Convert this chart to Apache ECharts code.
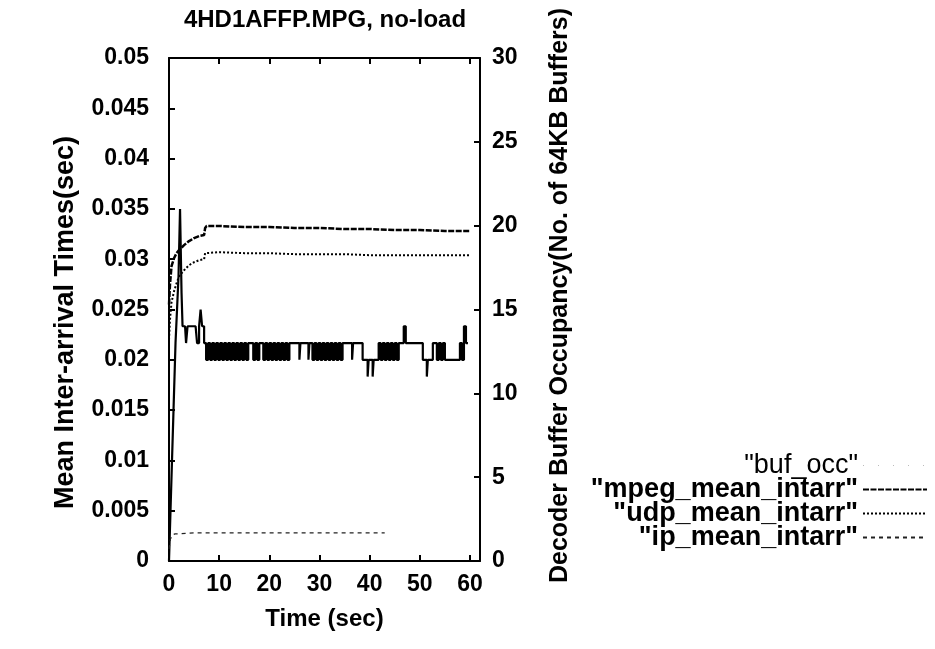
<!DOCTYPE html>
<html>
<head>
<meta charset="utf-8">
<script src="https://cdn.jsdelivr.net/npm/echarts@6/dist/echarts.min.js"></script>
<style>
html,body{margin:0;padding:0;background:#fff;}
#c{width:935px;height:649px;}
</style>
</head>
<body>
<div id="c"></div>
<script>
// ---- data ----
var titleText = '4HD1AFFP.MPG, no-load';
var seriesNames = ['"buf_occ"', '"mpeg_mean_intarr"', '"udp_mean_intarr"', '"ip_mean_intarr"'];

var meanTime = [0, 0.2, 0.5, 1, 1.5, 2, 3, 4, 5, 6, 7, 7.2, 7.5, 10, 15, 20, 25, 30, 35, 40, 45, 50, 55, 60];
var mpegMean = [0.0255, 0.0275, 0.0293, 0.0301, 0.0306, 0.0309, 0.0314, 0.0318, 0.0321, 0.0323, 0.0324, 0.0331, 0.0333, 0.0333, 0.0332, 0.0332, 0.0331, 0.0331, 0.0330, 0.0330, 0.0329, 0.0329, 0.0328, 0.0328];
var udpMean  = [0.0220, 0.0240, 0.0257, 0.0268, 0.0276, 0.0283, 0.0289, 0.0294, 0.0297, 0.0299, 0.0300, 0.0306, 0.0307, 0.0307, 0.0306, 0.0306, 0.0305, 0.0305, 0.0305, 0.0304, 0.0304, 0.0304, 0.0304, 0.0304];

var ipTime = [0, 0.3, 0.7, 1.2, 2, 5, 10, 20, 30, 40, 43];
var ipMean = [0.0012, 0.0022, 0.0026, 0.0027, 0.0027, 0.0028, 0.0028, 0.0028, 0.0028, 0.0028, 0.0028];

// buffer occupancy (no. of 64KB buffers) : [time, buffers]
var bufOcc = [
 [0,0],[0.3,3],[0.6,6],[0.9,9],[1.1,11],[1.3,13],[1.6,15],[1.9,17],[2.2,21],[2.5,16],[2.7,14],[3.2,14],[3.4,13],[3.7,14],
 [5.3,14],[5.6,13],[6.0,14],[6.3,15],[6.6,14],[7.0,13],
 [7.4,12],[7.8,13],[8.2,12],[8.6,13],[9.0,12],[9.4,13],[9.8,12],[10.2,13],[10.6,12],[11.0,13],[11.4,12],[11.8,13],
 [12.2,12],[12.6,13],[13.0,12],[13.4,13],[13.8,12],[14.2,13],[14.6,12],[15.0,13],[15.4,12],[15.8,13],
 [16.8,12],[17.2,13],[17.6,12],[18.0,13],
 [18.8,12],[19.2,13],[19.6,12],[20.0,13],[20.4,12],[20.8,13],[21.2,12],[21.6,13],[22.0,12],[22.4,13],[22.8,12],[23.2,13],[23.6,12],[24.0,13],
 [26.0,12],[26.2,13],[27.8,12],[28.0,13],
 [28.6,12],[29.0,13],[29.4,12],[29.8,13],[30.2,12],[30.6,13],[31.0,12],[31.4,13],[31.8,12],[32.2,13],[32.6,12],[33.0,13],[33.4,12],[33.8,13],[34.2,12],[34.6,13],
 [36.5,12],[36.7,13],
 [38.6,12],[39.6,11],[39.8,12],[40.6,11],[40.8,12],
 [41.8,13],[42.2,12],[42.6,13],[43.0,12],[43.4,13],[43.8,12],[44.2,13],[44.6,12],[45.0,13],[45.4,12],[45.8,13],
 [46.8,14],[47.2,13],
 [50.6,12],[51.4,11],[51.6,12],[52.6,13],
 [53.4,12],[53.8,13],[54.2,12],[54.6,13],[55.0,12],
 [57.6,12],[58.0,13],[58.4,12],[58.8,14],[59.2,13],[59.6,13]
];

function zip(t, v){ var o=[]; for (var i=0;i<t.length;i++) o.push([t[i], v[i]]); return o; }

var FONT = '"Liberation Sans", Arial, Helvetica, sans-serif';
var chart = echarts.init(document.getElementById('c'), null, {renderer:'canvas'});

function axisLine(){ return {show:true, onZero:false, lineStyle:{color:'#000', width:2}}; }
function axisTick(){ return {show:true, inside:true, length:6, lineStyle:{color:'#000', width:2}}; }
var labelStyle = {color:'#000', fontSize:23, fontWeight:'bold', fontFamily:FONT};

chart.setOption({
  backgroundColor:'#fff',
  animation:false,
  color:['#000','#000','#000','#222'],
  title:{
    text:titleText, left:320, textAlign:'center', top:3,
    textStyle:{color:'#000', fontSize:24, fontWeight:'bold', fontFamily:FONT}
  },
  grid:{left:169, right:455, top:58, bottom:88, containLabel:false},
  legend:{
    orient:'vertical', right:2, top:447, align:'right',
    itemWidth:64, itemHeight:10, itemGap:-3,
    itemStyle:{opacity:0},
    textStyle:{color:'#000', fontSize:27, fontWeight:'bold', fontFamily:FONT},
    data:[
      {name:seriesNames[0], lineStyle:{color:'#bbb', type:[1,14], width:1}, textStyle:{fontWeight:'normal'}},
      {name:seriesNames[1]},
      {name:seriesNames[2]},
      {name:seriesNames[3]}
    ]
  },
  xAxis:[
    {type:'value', min:0, max:62, interval:10, position:'bottom',
     axisLine:axisLine(), axisTick:axisTick(), splitLine:{show:false},
     axisLabel:Object.assign({margin:12, showMaxLabel:false}, labelStyle),
     name:'Time (sec)', nameLocation:'middle', nameGap:46,
     nameTextStyle:{color:'#000', fontSize:24, fontWeight:'bold', fontFamily:FONT}},
    {type:'value', min:0, max:62, interval:10, position:'top',
     axisLine:axisLine(), axisTick:axisTick(), splitLine:{show:false},
     axisLabel:{show:false}}
  ],
  yAxis:[
    {type:'value', min:0, max:0.05, interval:0.005, position:'left',
     axisLine:axisLine(), axisTick:axisTick(), splitLine:{show:false},
     axisLabel:Object.assign({margin:20}, labelStyle),
     name:'Mean Inter-arrival Times(sec)', nameLocation:'middle', nameGap:90, nameRotate:90,
     nameTextStyle:{color:'#000', fontSize:27, fontWeight:'bold', fontFamily:FONT, padding:[0,26,0,0]}},
    {type:'value', min:0, max:30, interval:5, position:'right',
     axisLine:axisLine(), axisTick:axisTick(), splitLine:{show:false},
     axisLabel:Object.assign({margin:12}, labelStyle),
     name:'Decoder Buffer Occupancy(No. of 64KB Buffers)', nameLocation:'middle', nameGap:68, nameRotate:90,
     nameTextStyle:{color:'#000', fontSize:25, fontWeight:'bold', fontFamily:FONT, padding:[0,0,0,28]}}
  ],
  series:[
    {name:seriesNames[0], type:'line', xAxisIndex:0, yAxisIndex:1, step:'end', symbol:'none',
     itemStyle:{color:'#000'}, lineStyle:{color:'#000', width:2.2}, data:bufOcc},
    {name:seriesNames[1], type:'line', xAxisIndex:0, yAxisIndex:0, symbol:'none',
     itemStyle:{color:'#000'}, lineStyle:{color:'#000', width:2.5, type:[6,1.5]}, data:zip(meanTime, mpegMean)},
    {name:seriesNames[2], type:'line', xAxisIndex:0, yAxisIndex:0, symbol:'none',
     itemStyle:{color:'#000'}, lineStyle:{color:'#000', width:2, type:[2,2]}, data:zip(meanTime, udpMean)},
    {name:seriesNames[3], type:'line', xAxisIndex:0, yAxisIndex:0, symbol:'none',
     itemStyle:{color:'#222'}, lineStyle:{color:'#222', width:1.2, type:[4,4]}, data:zip(ipTime, ipMean)}
  ]
});
</script>
</body>
</html>
